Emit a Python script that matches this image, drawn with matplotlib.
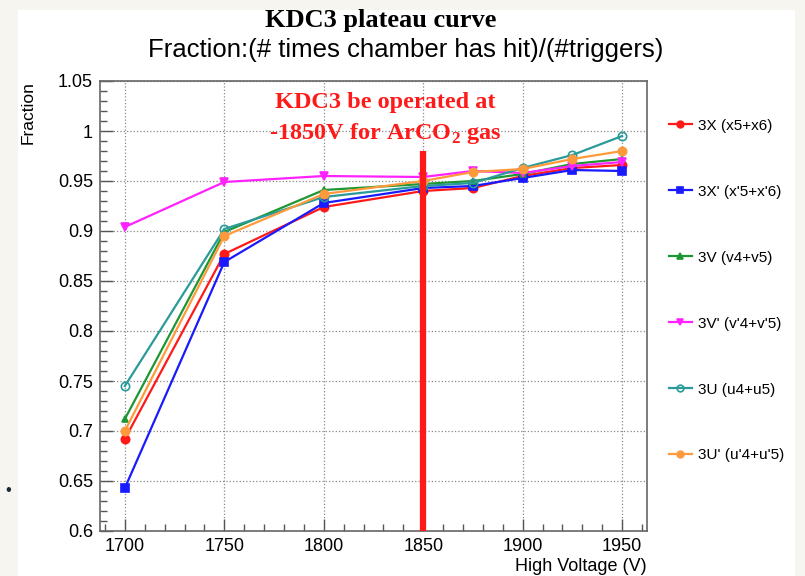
import matplotlib.pyplot as plt
from matplotlib.ticker import MultipleLocator, FuncFormatter
from matplotlib.patches import Rectangle

plt.rcParams['font.family'] = ['Liberation Sans', 'DejaVu Sans']
# serif bold subscript for the ArCO2 note
plt.rcParams['mathtext.fontset'] = 'custom'
plt.rcParams['mathtext.rm'] = 'Liberation Serif:bold'
plt.rcParams['mathtext.bf'] = 'Liberation Serif:bold'

voltages = [1700, 1750, 1800, 1850, 1875, 1900, 1925, 1950]

frac_3x = [0.692, 0.877, 0.924, 0.940, 0.943, 0.955, 0.963, 0.966]
frac_3xp = [0.643, 0.869, 0.928, 0.943, 0.945, 0.953, 0.961, 0.960]
frac_3v = [0.712, 0.899, 0.941, 0.947, 0.950, 0.957, 0.967, 0.972]
frac_3vp = [0.904, 0.949, 0.955, 0.954, 0.960, 0.958, 0.965, 0.969]
frac_3u = [0.745, 0.902, 0.934, 0.945, 0.948, 0.963, 0.976, 0.995]
frac_3up = [0.700, 0.895, 0.937, 0.950, 0.959, 0.962, 0.972, 0.980]

series = [
    ("3X (x5+x6)", frac_3x, '#ff1a1a', 'o', True),
    ("3X' (x'5+x'6)", frac_3xp, '#1a1aff', 's', True),
    ("3V (v4+v5)", frac_3v, '#1e9632', '^', True),
    ("3V' (v'4+v'5)", frac_3vp, '#ff22ff', 'v', True),
    ("3U (u4+u5)", frac_3u, '#2a9a9a', 'o', False),
    ("3U' (u'4+u'5)", frac_3up, '#ff9a3c', 'o', True),
]

W, H = 805, 576
fig = plt.figure(figsize=(W / 100, H / 100), dpi=100, facecolor='#f7f5ef')
# white slide area
fig.add_artist(Rectangle((18 / W, 0), (795 - 18) / W, 1 - 10 / H,
                         transform=fig.transFigure, facecolor='white',
                         edgecolor='none', zorder=0))
fig.text(8 / W, 1 - 490 / H, u'\u2022', fontsize=12, color='#1a2a3a',
         ha='center', va='center')

ax = fig.add_axes([100 / W, 1 - 531 / H, (647 - 100) / W, (531 - 81) / H])

handles = []
for name, vals, col, mk, filled in series:
    h, = ax.plot(voltages, vals, color=col, lw=1.6, marker=mk,
                 markersize=6 if mk != '^' else 5,
                 markerfacecolor=col if filled else 'none',
                 markeredgecolor=col, markeredgewidth=1.2, label=name, zorder=3)
    handles.append(h)

ax.set_xlim(1687.5, 1962.5)
ax.set_ylim(0.6, 1.05)
ax.xaxis.set_major_locator(MultipleLocator(50))
ax.xaxis.set_minor_locator(MultipleLocator(10))
ax.yaxis.set_major_locator(MultipleLocator(0.05))
ax.yaxis.set_minor_locator(MultipleLocator(0.01))
ax.yaxis.set_major_formatter(FuncFormatter(lambda v, p: f"{v:.2f}".rstrip('0').rstrip('.')))
ax.tick_params(which='major', direction='in', length=9, width=1, color='#555555',
               labelsize=13, top=False, right=False, pad=5)
ax.tick_params(which='minor', direction='in', length=5, width=1, color='#555555',
               top=False, right=False)
ax.grid(True, which='major', linestyle=':', color='#888888', lw=0.9)
for s in ax.spines.values():
    s.set_color('#666666')
    s.set_linewidth(1.2)

# operating point marker
ax.plot([1850, 1850], [0.6, 0.98], color='#ff1a1a', lw=4.5, solid_capstyle='butt', zorder=4)
ax.text(1831, 1.029, "KDC3 be operated at", color='#ff1a1a', fontsize=17.5,
        fontweight='bold', family='Liberation Serif', ha='center', va='center')
ax.text(1831, 0.998, "-1850V for ArCO$_2$ gas", color='#ff1a1a', fontsize=17.5,
        fontweight='bold', family='Liberation Serif', ha='center', va='center')

ax.set_xlabel("High Voltage (V)", fontsize=13, loc='right', labelpad=2)
ax.set_ylabel("Fraction", fontsize=12.5, loc='top', labelpad=16)

fig.text(381 / W, 1 - 20 / H, "KDC3 plateau curve", fontsize=19, fontweight='bold',
         family='Liberation Serif', ha='center', va='center')
fig.text(406 / W, 1 - 50 / H, "Fraction:(# times chamber has hit)/(#triggers)",
         fontsize=18.5, ha='center', va='center')

fig.legend(handles=handles, loc='upper left', bbox_to_anchor=(655 / W, 1 - 105 / H),
           frameon=False, fontsize=11, labelspacing=3.4, handlelength=1.5,
           handletextpad=0.4, markerscale=0.8)

fig.savefig("out.png", dpi=100, facecolor=fig.get_facecolor())
